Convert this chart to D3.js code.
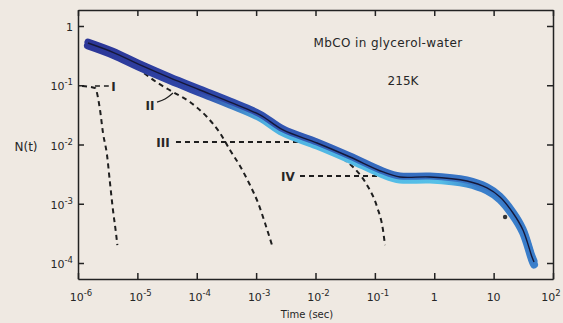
<!DOCTYPE html>
<html>
<head>
<meta charset="utf-8">
<script src="https://cdn.jsdelivr.net/npm/d3@7"></script>
<style>
  body { margin: 0; background: #efe9e2; }
  svg { display: block; }
  text { font-family: "DejaVu Sans", sans-serif; fill: #262626; }
</style>
</head>
<body>
<div id="chart"></div>
<script>
// decay data (time in sec, N(t))
const dataTime = [1.47e-6, 3.88e-6, 1.11e-5, 3.54e-5, 1.13e-4, 3.63e-4, 1.16e-3, 2.84e-3, 0.0106, 0.0381, 0.137, 0.265, 0.848, 3.56, 7.73, 12.8, 21.2, 31.2, 44.3, 47.9];
const dataN = [0.516, 0.36, 0.220, 0.133, 0.0832, 0.0521, 0.0315, 0.0176, 0.0106, 0.00615, 0.00344, 0.00283, 0.00283, 0.00242, 0.00185, 0.00130, 6.98e-4, 3.61e-4, 1.26e-4, 1.04e-4];

// component curves (dashed)
const compITime = [1.17e-6, 1.93e-6, 2.35e-6, 2.64e-6, 3.08e-6, 3.46e-6, 3.88e-6, 4.36e-6, 4.60e-6];
const compIN = [0.097, 0.090, 0.0382, 0.0156, 0.00665, 0.00224, 7.85e-4, 3.2e-4, 2.01e-4];
const compIITime = [7.52e-6, 2.22e-5, 3.98e-5, 7.69e-5, 1.49e-4, 2.47e-4, 3.63e-4, 5.35e-4, 7.88e-4, 1.08e-3, 1.41e-3, 1.85e-3];
const compIIN = [0.246, 0.109, 0.0769, 0.0521, 0.0291, 0.0156, 0.00807, 0.00434, 0.00207, 0.00103, 4.73e-4, 2.01e-4];
const compIIITime = [4.47e-5, 7.88e-4, 8.07e-3, 0.0156, 0.0259, 0.0429, 0.0737, 0.109, 0.137, 0.148];
const compIIIN = [0.0110, 0.0110, 0.0110, 0.00807, 0.00615, 0.00417, 0.00207, 8.81e-4, 3.61e-4, 2.01e-4];
const compIVTime = [5.48e-3, 0.265, 0.848, 2.5];
const compIVN = [0.00294, 0.00294, 0.00290, 0.00270];

// leaders from labels
const leaderITime = [1.93e-6, 3.3e-6];
const leaderIN = [0.097, 0.097];
const leaderIITime = [2.14e-5, 2.92e-5, 3.98e-5];
const leaderIIN = [0.0521, 0.0586, 0.0740];

const labelNames = ["I", "II", "III", "IV"];
const labelTime = [3.95e-6, 1.63e-5, 2.70e-5, 3.44e-3];
const labelN = [0.097, 0.0464, 0.0110, 0.00294];

const strayTime = [15.6];
const strayN = [5.97e-4];

const xTickExp = [-6, -5, -4, -3, -2, -1, 0, 1, 2];
const yTickExp = [0, -1, -2, -3, -4];

const width = 563, height = 323;
const margin = { top: 10, right: 10, bottom: 44, left: 78 };

const svg = d3.select('#chart').append('svg')
  .attr('width', width)
  .attr('height', height);

const x = d3.scaleLog()
  .domain([1e-6, 1e2])
  .range([margin.left, width - margin.right]);
const y = d3.scaleLog()
  .domain([Math.pow(10, -4.27), Math.pow(10, 0.27)])
  .range([height - margin.bottom, margin.top]);

const zip = (ts, ns) => ts.map((t, i) => ({ t: t, n: ns[i] }));

// smooth line for the measured band, monotone for the dashed components
const line = d3.line()
  .x(d => x(d.t))
  .y(d => y(d.n))
  .curve(d3.curveCatmullRom.alpha(0.5));
const compLine = d3.line()
  .x(d => x(d.t))
  .y(d => y(d.n))
  .curve(d3.curveMonotoneX);

// gradient for the coloured band
const defs = svg.append('defs');
const grad = defs.append('linearGradient')
  .attr('id', 'band')
  .attr('gradientUnits', 'userSpaceOnUse')
  .attr('x1', x(1e-6)).attr('x2', x(1e2)).attr('y1', 0).attr('y2', 0);
grad.append('stop').attr('offset', '0%').attr('stop-color', '#2c3596');
grad.append('stop').attr('offset', '30%').attr('stop-color', '#2f47a8');
grad.append('stop').attr('offset', '60%').attr('stop-color', '#3569bd');
grad.append('stop').attr('offset', '100%').attr('stop-color', '#3a7fcb');

const grad2 = defs.append('linearGradient')
  .attr('id', 'cyan')
  .attr('gradientUnits', 'userSpaceOnUse')
  .attr('x1', x(1e-6)).attr('x2', x(1e2)).attr('y1', 0).attr('y2', 0);
grad2.append('stop').attr('offset', '0%').attr('stop-color', '#2c3596');
grad2.append('stop').attr('offset', '25%').attr('stop-color', '#2f47a8');
grad2.append('stop').attr('offset', '40%').attr('stop-color', '#4fb3e2');
grad2.append('stop').attr('offset', '76%').attr('stop-color', '#56c0e8');
grad2.append('stop').attr('offset', '84%').attr('stop-color', '#3a7fcb');
grad2.append('stop').attr('offset', '100%').attr('stop-color', '#3a7fcb');

// Axes: ticks point inward on all four sides
const xTicks = xTickExp.map(e => Math.pow(10, e));
const yTicks = yTickExp.map(e => Math.pow(10, e));

const styleAxis = g => {
  g.selectAll('path, line').attr('stroke', '#222').attr('stroke-width', 1.5);
  g.selectAll('text').remove();
};

svg.append('g')
  .attr('transform', 'translate(0,' + (height - margin.bottom) + ')')
  .call(d3.axisBottom(x).tickValues(xTicks).tickSizeInner(-6).tickSizeOuter(0))
  .call(styleAxis);
svg.append('g')
  .attr('transform', 'translate(0,' + margin.top + ')')
  .call(d3.axisTop(x).tickValues(xTicks).tickSizeInner(-6).tickSizeOuter(0))
  .call(styleAxis);
svg.append('g')
  .attr('transform', 'translate(' + margin.left + ',0)')
  .call(d3.axisLeft(y).tickValues(yTicks).tickSizeInner(-6).tickSizeOuter(0))
  .call(styleAxis);
svg.append('g')
  .attr('transform', 'translate(' + (width - margin.right) + ',0)')
  .call(d3.axisRight(y).tickValues(yTicks).tickSizeInner(-6).tickSizeOuter(0))
  .call(styleAxis);

// tick labels as 10 with superscript
function powLabel(sel, e) {
  if (e === 0) { sel.text('1'); return; }
  if (e === 1) { sel.text('10'); return; }
  sel.append('tspan').text('10');
  sel.append('tspan').attr('dy', -5).attr('font-size', 8.5).text(e < 0 ? '-' + (-e) : e);
}

svg.append('g').selectAll('text')
  .data(xTickExp)
  .join('text')
  .attr('x', d => x(Math.pow(10, d)) + (d === 0 || d === 1 ? 0 : (d === 2 ? -2 : 3)))
  .attr('y', 301)
  .attr('text-anchor', 'middle')
  .attr('font-size', 11)
  .each(function (d) { powLabel(d3.select(this), d); });

svg.append('g').selectAll('text')
  .data(yTickExp)
  .join('text')
  .attr('x', 73)
  .attr('y', d => y(Math.pow(10, d)) + 5)
  .attr('text-anchor', 'end')
  .attr('font-size', 11)
  .each(function (d) { powLabel(d3.select(this), d); });

svg.append('text')
  .attr('x', 26).attr('y', 151)
  .attr('text-anchor', 'middle')
  .attr('font-size', 12)
  .text('N(t)');

svg.append('text')
  .attr('x', 307).attr('y', 318)
  .attr('text-anchor', 'middle')
  .attr('font-size', 10)
  .text('Time (sec)');

svg.append('text')
  .attr('x', 388).attr('y', 47)
  .attr('text-anchor', 'middle')
  .attr('font-size', 12)
  .attr('letter-spacing', 0.4)
  .text('MbCO in glycerol-water');
svg.append('text')
  .attr('x', 403).attr('y', 85)
  .attr('text-anchor', 'middle')
  .attr('font-size', 12)
  .text('215K');

// dashed components
const comps = [zip(compITime, compIN), zip(compIITime, compIIN), zip(compIIITime, compIIIN), zip(compIVTime, compIVN)];
svg.append('g').selectAll('path')
  .data(comps)
  .join('path')
  .attr('d', compLine)
  .attr('fill', 'none')
  .attr('stroke', '#1e1e1e')
  .attr('stroke-width', 2)
  .attr('stroke-dasharray', '5,4');

svg.append('path')
  .datum(zip(leaderITime, leaderIN))
  .attr('d', compLine)
  .attr('fill', 'none')
  .attr('stroke', '#1e1e1e')
  .attr('stroke-width', 1.6)
  .attr('stroke-dasharray', '5,4');
svg.append('path')
  .datum(zip(leaderIITime, leaderIIN))
  .attr('d', line)
  .attr('fill', 'none')
  .attr('stroke', '#1e1e1e')
  .attr('stroke-width', 1.3);

// data band
const measured = zip(dataTime, dataN);
svg.append('path')
  .datum(measured)
  .attr('d', line)
  .attr('transform', 'translate(0,2.5)')
  .attr('fill', 'none')
  .attr('stroke', 'url(#cyan)')
  .attr('stroke-width', 8)
  .attr('stroke-linecap', 'round');
svg.append('path')
  .datum(measured)
  .attr('d', line)
  .attr('transform', 'translate(0,-1)')
  .attr('fill', 'none')
  .attr('stroke', 'url(#band)')
  .attr('stroke-width', 7)
  .attr('stroke-linecap', 'round');
svg.append('path')
  .datum(measured)
  .attr('d', line)
  .attr('fill', 'none')
  .attr('stroke', '#15183a')
  .attr('stroke-width', 1.4);

svg.append('g').selectAll('circle')
  .data(zip(strayTime, strayN))
  .join('circle')
  .attr('cx', d => x(d.t))
  .attr('cy', d => y(d.n))
  .attr('r', 2.2)
  .attr('fill', '#333');

// roman numeral labels
svg.append('g').selectAll('text')
  .data(labelNames)
  .join('text')
  .attr('x', (d, i) => x(labelTime[i]))
  .attr('y', (d, i) => y(labelN[i]) + 4.5)
  .attr('text-anchor', 'middle')
  .attr('font-family', '"Liberation Serif", serif')
  .attr('font-weight', 'bold')
  .attr('font-size', 12)
  .text(d => d);
</script>
</body>
</html>
